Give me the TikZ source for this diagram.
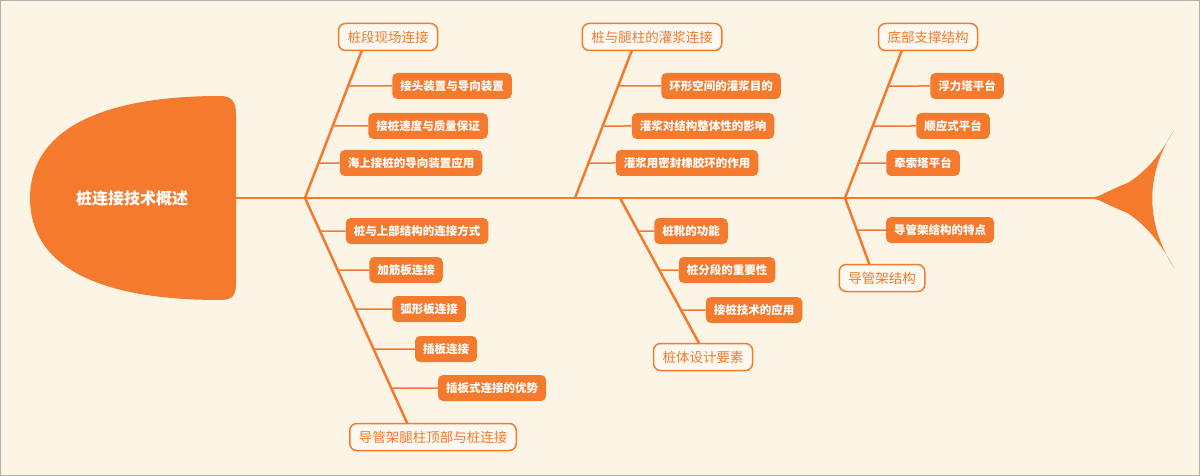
\documentclass[tikz,border=0pt]{standalone}
\usepackage{fontspec}
\setmainfont{Noto Sans CJK SC}
\definecolor{org}{HTML}{F47A2E}
\definecolor{bg}{HTML}{FCF5E6}
\tikzset{
 sub/.style={fill=org,text=white,rounded corners=5pt,font=\fontsize{11.5}{13}\selectfont\bfseries,inner xsep=8pt,minimum height=26pt},
 main/.style={fill=bg!60!white,draw=org,line width=1.5pt,text=org,rounded corners=7pt,font=\fontsize{13.5}{15}\selectfont,inner xsep=9pt,minimum height=27pt},
 bone/.style={draw=org,line width=2.5pt},
 twig/.style={draw=org,line width=1.5pt}
}
\begin{document}
\begin{tikzpicture}[x=1pt,y=-1pt]
\useasboundingbox (0,0) rectangle (1200,476);
\fill[bg] (0,0) rectangle (1200,476);
\draw[gray!60,line width=1pt] (0.5,0.5) rectangle (1199.5,475.5);
% spine
\draw[bone] (235,198) coordinate (sp0) -- (1110,198) coordinate (sp1);
% head
\fill[org] (220,96) .. controls (232,96) and (236,102) .. (236,114) -- (236,284)
 .. controls (236,296) and (232,300) .. (220,300)
 .. controls (90,300) and (30,262) .. (30,198)
 .. controls (30,136) and (90,96) .. (220,96) -- cycle;
\node[text=white,font=\fontsize{16}{18}\selectfont\bfseries] (head) at (132,198) {桩连接技术概述};
% tail
\fill[org] (1090,198) .. controls (1130,190) and (1155,165) .. (1174,130)
 .. controls (1145,175) and (1145,222) .. (1174,268)
 .. controls (1155,232) and (1130,206) .. (1090,198) -- cycle;
\fill[org] (1095,198) .. controls (1120,185) and (1135,180) .. (1150,175) -- (1150,221) .. controls (1135,216) and (1120,211) .. (1095,198) -- cycle;
% bones
\coordinate (a0) at (305,198); \coordinate (a1) at (362,50);
\coordinate (b0) at (575,198); \coordinate (b1) at (632,50);
\coordinate (c0) at (845,198); \coordinate (c1) at (902,50);
\coordinate (d0) at (305,198); \coordinate (d1) at (408,425);
\coordinate (e0) at (620,198); \coordinate (e1) at (700,345);
\coordinate (f0) at (845,198); \coordinate (f1) at (870,266);
\foreach \s in {a,b,c,d,e,f}{\draw[bone] (\s0) -- (\s1);}
\node[main] (A) at (388,37) {桩段现场连接};
\node[main] (B) at (652,37) {桩与腿柱的灌浆连接};
\node[main] (C) at (928,37) {底部支撑结构};
\node[main] (D) at (433,437) {导管架腿柱顶部与桩连接};
\node[main] (E) at (703,357) {桩体设计要素};
\node[main] (F) at (882,278) {导管架结构};
% subs
\node[sub] (a1s) at (452,86) {接头装置与导向装置};
\node[sub] (a2s) at (428,126) {接桩速度与质量保证};
\node[sub] (a3s) at (411,163) {海上接桩的导向装置应用};
\node[sub] (b1s) at (721,86) {环形空间的灌浆目的};
\node[sub] (b2s) at (703,126) {灌浆对结构整体性的影响};
\node[sub] (b3s) at (687,163) {灌浆用密封橡胶环的作用};
\node[sub] (c1s) at (967,86) {浮力塔平台};
\node[sub] (c2s) at (953,126) {顺应式平台};
\node[sub] (c3s) at (923,163) {牵索塔平台};
\node[sub] (d1s) at (417,231) {桩与上部结构的连接方式};
\node[sub] (d2s) at (406,270) {加筋板连接};
\node[sub] (d3s) at (429,309) {弧形板连接};
\node[sub] (d4s) at (446,349) {插板连接};
\node[sub] (d5s) at (492,388) {插板式连接的优势};
\node[sub] (e1s) at (691,231) {桩靴的功能};
\node[sub] (e2s) at (727,270) {桩分段的重要性};
\node[sub] (e3s) at (754,310) {接桩技术的应用};
\node[sub] (f1s) at (940,230) {导管架结构的特点};
\foreach \s/\n in {a/a1s,a/a2s,a/a3s,b/b1s,b/b2s,b/b3s,c/c1s,c/c2s,c/c3s,d/d1s,d/d2s,d/d3s,d/d4s,d/d5s,e/e1s,e/e2s,e/e3s,f/f1s}{
 \draw[twig] (intersection of \s0--\s1 and \n.west--\n.east) -- (\n.west);}
\end{tikzpicture}
\end{document}
